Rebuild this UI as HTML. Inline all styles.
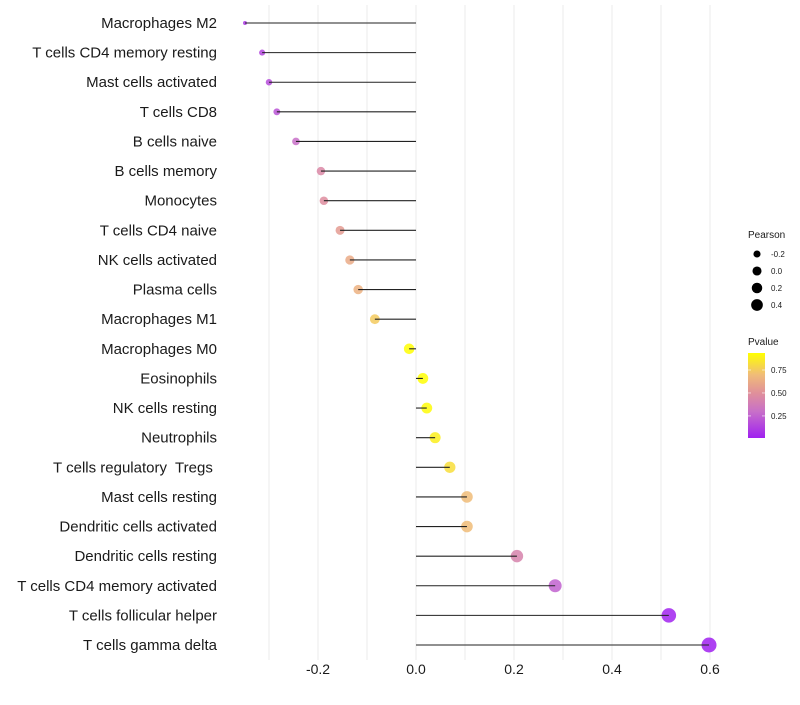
<!DOCTYPE html>
<html><head><meta charset="utf-8"><style>
body{margin:0;background:#fff;}
svg{font-family:"Liberation Sans",sans-serif;}
text{white-space:pre;}
</style></head><body>
<svg id="chart" width="800" height="700"></svg>
<script>
const categories=["Macrophages M2","T cells CD4 memory resting","Mast cells activated","T cells CD8","B cells naive","B cells memory","Monocytes","T cells CD4 naive","NK cells activated","Plasma cells","Macrophages M1","Macrophages M0","Eosinophils","NK cells resting","Neutrophils","T cells regulatory  Tregs ","Mast cells resting","Dendritic cells activated","Dendritic cells resting","T cells CD4 memory activated","T cells follicular helper","T cells gamma delta"];
const pearson=[-0.349,-0.314,-0.300,-0.284,-0.245,-0.194,-0.188,-0.155,-0.135,-0.118,-0.084,-0.014,0.014,0.022,0.039,0.069,0.104,0.104,0.206,0.284,0.516,0.598];
const pvalue=[0.10,0.15,0.17,0.20,0.30,0.45,0.48,0.55,0.62,0.65,0.75,0.93,0.93,0.92,0.88,0.82,0.70,0.70,0.42,0.25,0.02,0.01];
const xTicks=[-0.2,0.0,0.2,0.4,0.6];
const sizeLegend=[-0.2,0.0,0.2,0.4];
const pTicks=[0.25,0.50,0.75];

const NS="http://www.w3.org/2000/svg";
const svg=document.getElementById('chart');
function mk(t,a,p){const e=document.createElementNS(NS,t);for(const k in a)e.setAttribute(k,a[k]);(p||svg).appendChild(e);return e;}
const x=v=>416+v*490;
const y=i=>23+i*(622/21);
const r=v=>{const t=Math.max(0,(v+0.349)/0.947);return 2+5.5*Math.sqrt(t);};
const stops=[[0.01,[160,32,240]],[0.3,[200,112,200]],[0.5,[224,144,154]],[0.7,[240,188,120]],[0.935,[255,255,0]]];
function col(p){if(p<=stops[0][0])return `rgb(${stops[0][1]})`;for(let k=1;k<stops.length;k++){if(p<=stops[k][0]){const a=stops[k-1],b=stops[k],t=(p-a[0])/(b[0]-a[0]);return 'rgb('+a[1].map((c,j)=>Math.round(c+(b[1][j]-c)*t)).join(',')+')';}}return 'rgb(255,255,0)';}
const pY=p=>438-(p-0.01)/(0.935-0.01)*85;

for(let g=-0.3;g<=0.61;g+=0.1){const gl=mk('line',{x1:x(g),x2:x(g),y1:5,y2:660,stroke:'#ebebeb','stroke-width':1});

}
xTicks.forEach(t=>{const tx=mk('text',{x:x(t),y:674,'text-anchor':'middle','font-size':14,fill:'#1a1a1a'});tx.textContent=t.toFixed(1);

});

categories.forEach((c,i)=>{
const lb=mk('text',{x:217,y:y(i)+5,'text-anchor':'end','font-size':15,fill:'#1a1a1a'});lb.textContent=c;


const pt=mk('circle',{cx:x(pearson[i]),cy:y(i),r:r(pearson[i]),fill:col(pvalue[i]),'fill-opacity':0.85});


const ln=mk('line',{x1:x(0),x2:x(pearson[i]),y1:y(i),y2:y(i),stroke:'#222','stroke-width':1.1});


});

const st=mk('text',{x:748,y:238,'font-size':10,fill:'#1a1a1a'});st.textContent='Pearson';


sizeLegend.forEach((v,k)=>{const cy=254+k*17;
const c=mk('circle',{cx:757,cy:cy,r:r(v)*0.85,fill:'#000'});


const t=mk('text',{x:771,y:cy+3,'font-size':8,fill:'#1a1a1a'});t.textContent=v.toFixed(1);

});

const ct=mk('text',{x:748,y:345,'font-size':10,fill:'#1a1a1a'});ct.textContent='Pvalue';


const defs=mk('defs',{});const lg=mk('linearGradient',{id:'pg',x1:0,y1:1,x2:0,y2:0},defs);
stops.forEach(s=>mk('stop',{offset:((s[0]-0.01)/0.925),'stop-color':`rgb(${s[1]})`},lg));
const bar=mk('rect',{x:748,y:353,width:17,height:85,fill:'url(#pg)'});


pTicks.forEach(p=>{const yy=pY(p);
mk('line',{x1:748,x2:751,y1:yy,y2:yy,stroke:'#fff','stroke-width':0.6});
mk('line',{x1:762,x2:765,y1:yy,y2:yy,stroke:'#fff','stroke-width':0.6});
const t=mk('text',{x:771,y:yy+3,'font-size':8,fill:'#1a1a1a'});t.textContent=p.toFixed(2);

});
</script>
</body></html>
